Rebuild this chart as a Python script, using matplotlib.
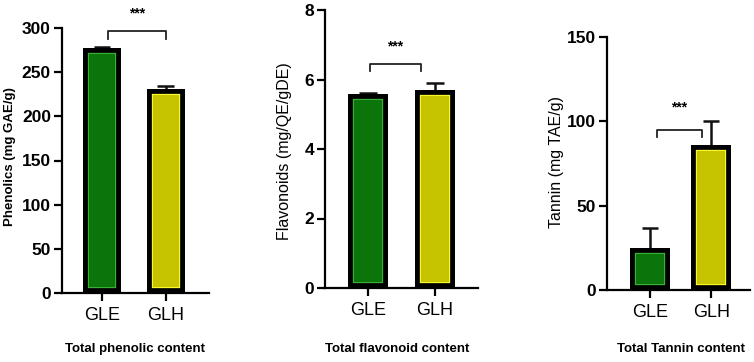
import matplotlib
matplotlib.use("Agg")
import matplotlib.pyplot as plt

plt.rcParams['font.family'] = ['Liberation Sans', 'DejaVu Sans']

groups = ['GLE', 'GLH']

phenolic = [277, 231]
phenolic_err = [2, 3]

flavonoid = [5.57, 5.71]
flavonoid_err = [0.04, 0.19]

tannin = [25, 86]
tannin_err = [12, 14]

titles = ['Total phenolic content', 'Total flavonoid content', 'Total Tannin content']
ylabels = ['Phenolics (mg GAE/g)', 'Flavonoids (mg/QE/gDE)', 'Tannin (mg TAE/g)']

fills = ['#0b740b', '#c6c300']
rims = ['#3fb83f', '#ffff2a']

fig = plt.figure(figsize=(7.54, 3.62), dpi=100)

def px(x0, y0, x1, y1):
    # pixel box -> figure fraction
    W, H = 754, 362
    return [x0 / W, 1 - y1 / H, (x1 - x0) / W, (y1 - y0) / H]

ax1 = fig.add_axes(px(62, 28, 209, 293))
ax2 = fig.add_axes(px(325, 10, 478, 288))
ax3 = fig.add_axes(px(607, 37, 750, 290))


def panel(ax, vals, errs, ylim, yticks, bracket, drop, star_y, xlim, width):
    x = list(range(len(vals)))
    tops = [v + e for v, e in zip(vals, errs)]
    # error bars (upper only), drawn behind the bars
    ax.vlines(x, vals, tops, color='#111111', lw=1.8, zorder=0.5)
    ax.hlines(tops, [i - 0.13 for i in x], [i + 0.13 for i in x],
              color='#111111', lw=1.8, zorder=0.5)
    bars = ax.bar(x, vals, width, color=fills, edgecolor=rims, linewidth=8.5, zorder=1)
    for b in bars:
        b.set_clip_path(b)
    outline = ax.bar(x, vals, width, fill=False, edgecolor='black', linewidth=7, zorder=1.1)
    for b in outline:
        b.set_clip_path(b)
    bx0, bx1, by = bracket
    ax.plot([bx0, bx0, bx1, bx1], [by - drop, by, by, by - drop], color='#222222',
            lw=1.3, clip_on=False)
    ax.text((bx0 + bx1) / 2, star_y, '***', ha='center', va='center',
            fontsize=10, fontweight='bold', clip_on=False)
    ax.set_xlim(*xlim)
    ax.set_ylim(*ylim)
    ax.set_yticks(yticks)
    ax.set_xticks(x)
    ax.set_xticklabels(groups, fontsize=13)
    for lab in ax.get_yticklabels():
        lab.set_fontsize(12.5)
        lab.set_fontweight('bold')
    for s in ['top', 'right']:
        ax.spines[s].set_visible(False)
    for s in ['left', 'bottom']:
        ax.spines[s].set_linewidth(1.6)
        ax.spines[s].set_zorder(2)
    ax.tick_params(axis='both', width=1.6, length=6, pad=2)
    ax.tick_params(axis='x', pad=4)


panel(ax1, phenolic, phenolic_err, (0, 300), [0, 50, 100, 150, 200, 250, 300],
      (0.09, 1.0, 297), 10, 317, (-0.63, 1.68), 0.6)
panel(ax2, flavonoid, flavonoid_err, (0, 8), [0, 2, 4, 6, 8],
      (0.03, 0.79, 6.45), 0.2, 6.95, (-0.64, 1.64), 0.6)
panel(ax3, tannin, tannin_err, (0, 150), [0, 50, 100, 150],
      (0.11, 0.85, 95), 4, 108, (-0.70, 1.63), 0.65)

fig.text(10 / 754, 1 - 157 / 362, ylabels[0], rotation=90, ha='center', va='center',
         fontsize=9.5, fontweight='bold')
fig.text(284 / 754, 1 - 151 / 362, ylabels[1], rotation=90, ha='center', va='center',
         fontsize=11.5)
fig.text(557 / 754, 1 - 162 / 362, ylabels[2], rotation=90, ha='center', va='center',
         fontsize=11.5)

for cx, t in zip([135, 397, 681], titles):
    fig.text(cx / 754, 1 - 349 / 362, t, ha='center', va='center',
             fontsize=9.5, fontweight='bold')

fig.savefig('out.png', dpi=100)
